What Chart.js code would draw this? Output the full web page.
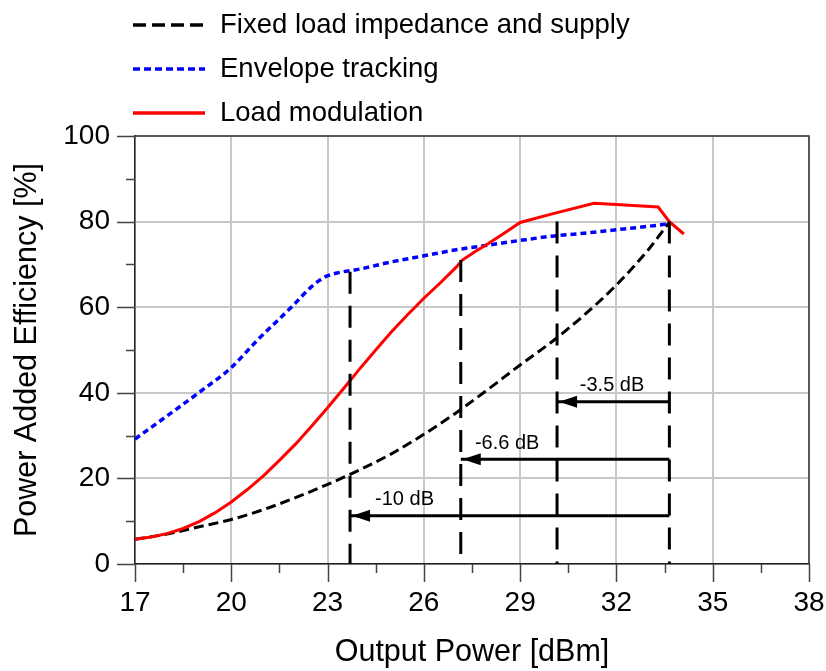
<!DOCTYPE html>
<html>
<head>
<meta charset="utf-8">
<title>Power Added Efficiency</title>
<script src="https://cdn.jsdelivr.net/npm/chart.js@4.4.0/dist/chart.umd.min.js"></script>
<style>
  body { margin: 0; background: #fff; }
  canvas { display: block; }
</style>
</head>
<body>
<canvas id="paeChart" width="826" height="671"></canvas>
<script>
// Output power [dBm] / PAE [%] for each architecture
const fixedP   = [17, 18, 19, 20, 21, 22, 23, 24, 25, 26, 27, 28, 29, 30, 31, 32, 33, 33.65];
const fixedPAE = [5.8, 7.0, 8.7, 10.4, 12.7, 15.5, 18.6, 22.0, 25.8, 30.3, 35.3, 40.8, 46.5, 52.0, 58.2, 65.2, 73.5, 79.9];

const etP   = [17, 18, 19, 20, 20.8, 21.9, 22.5, 22.9, 23.3, 24, 25, 26, 27, 28, 29, 30, 31, 32, 33, 33.65];
const etPAE = [29.2, 34.6, 40.1, 45.9, 52.2, 60.2, 64.8, 67.0, 68.0, 68.9, 70.6, 72.0, 73.4, 74.5, 75.6, 76.6, 77.3, 78.1, 78.9, 79.5];

const lmP   = [17, 17.5, 18, 18.5, 19, 19.5, 20, 20.5, 21, 21.5, 22, 22.5, 23, 23.5, 24, 24.5, 25, 25.5, 26, 26.5, 27, 27.2, 27.6, 28, 28.5, 29, 30, 31.3, 32, 33.3, 33.65, 34.1];
const lmPAE = [5.8, 6.3, 7.1, 8.3, 9.9, 12.0, 14.5, 17.4, 20.6, 24.2, 28.0, 32.2, 36.5, 41.0, 45.6, 50.0, 54.3, 58.3, 62.1, 65.6, 69.3, 71.0, 73.0, 74.8, 77.3, 79.8, 81.8, 84.3, 84.0, 83.4, 80.0, 77.1];

// back-off markers (dashed verticals) and their upper ends
const backoffP   = [23.7, 27.15, 30.15, 33.65];
const backoffTop = [68.3, 71.0, 80.0, 80.0];

// back-off arrows, drawn from peak power towards lower power
const arrowFrom   = 33.65;
const arrowTo     = [30.15, 27.15, 23.7];
const arrowPAE    = [37.9, 24.5, 11.3];
const arrowLabels = ['-3.5 dB', '-6.6 dB', '-10 dB'];
const arrowTextP  = [30.86, 27.59, 24.48];

const xTicks = [17, 20, 23, 26, 29, 32, 35, 38];
const yTicks = [0, 20, 40, 60, 80, 100];

const FONT = '"Liberation Sans", Arial, sans-serif';

const toPoints = (xs, ys) => xs.map((x, i) => ({ x: x, y: ys[i] }));

const series = [
  { label: 'Fixed load impedance and supply', data: toPoints(fixedP, fixedPAE),
    borderColor: '#000000', borderDash: [10, 5], legendDash: [13, 6], borderWidth: 3,
    cubicInterpolationMode: 'monotone', order: 3 },
  { label: 'Envelope tracking', data: toPoints(etP, etPAE),
    borderColor: '#0000ff', borderDash: [6, 4], legendDash: [7, 4], borderWidth: 3.5,
    cubicInterpolationMode: 'monotone', order: 2 },
  { label: 'Load modulation', data: toPoints(lmP, lmPAE),
    borderColor: '#ff0000', borderDash: [], legendDash: [], borderWidth: 3,
    order: 1 }
];

const markers = backoffP.map((p, i) => ({
  data: [{ x: p, y: backoffTop[i] }, { x: p, y: 0 }],
  borderColor: '#000', borderWidth: 3, borderDash: [22, 12], order: 0
}));

const arrows = arrowTo.map((p, i) => ({
  data: [{ x: arrowFrom, y: arrowPAE[i] }, { x: p, y: arrowPAE[i] }],
  borderColor: '#000', borderWidth: 3, order: 0
}));

// three-row legend above the plot
const legendRows = {
  id: 'legendRows',
  afterDraw(chart) {
    const ctx = chart.ctx;
    chart.data.datasets.slice(0, 3).forEach((ds, i) => {
      const y = 25 + i * 44;
      ctx.save();
      ctx.strokeStyle = ds.borderColor;
      ctx.lineWidth = 3.5;
      ctx.setLineDash(ds.legendDash);
      ctx.beginPath();
      ctx.moveTo(133, y);
      ctx.lineTo(205, y);
      ctx.stroke();
      ctx.setLineDash([]);
      ctx.fillStyle = '#000';
      ctx.font = '27.5px ' + FONT;
      ctx.textBaseline = 'middle';
      ctx.fillText(ds.label, 220, y);
      ctx.restore();
    });
  }
};

// top/right frame plus outside tick marks (major + minor)
const frameTicks = {
  id: 'frameTicks',
  afterDraw(chart) {
    const { ctx, chartArea: a, scales: { x, y } } = chart;
    ctx.save();
    ctx.strokeStyle = '#333';
    ctx.lineWidth = 1.5;
    ctx.beginPath();
    ctx.moveTo(a.left, a.top);
    ctx.lineTo(a.right, a.top);
    ctx.lineTo(a.right, a.bottom);
    ctx.stroke();

    ctx.strokeStyle = '#444';
    ctx.beginPath();
    for (let v = 0; v <= 100; v += 10) {
      const py = Math.round(y.getPixelForValue(v)) + 0.5;
      const len = yTicks.includes(v) ? 18 : 9;
      ctx.moveTo(a.left, py);
      ctx.lineTo(a.left - len, py);
    }
    for (let v = 17; v <= 38; v += 1.5) {
      const px = Math.round(x.getPixelForValue(v)) + 0.5;
      const len = xTicks.includes(v) ? 18 : 9;
      ctx.moveTo(px, a.bottom);
      ctx.lineTo(px, a.bottom + len);
    }
    ctx.stroke();
    ctx.restore();
  }
};

// arrow heads and back-off labels
const arrowNotes = {
  id: 'arrowNotes',
  afterDatasetsDraw(chart) {
    const { ctx, scales: { x, y } } = chart;
    ctx.save();
    ctx.fillStyle = '#000';
    ctx.font = '20px ' + FONT;
    ctx.textBaseline = 'middle';
    arrowTo.forEach((p, i) => {
      const tip = x.getPixelForValue(p) + 2;
      const py = y.getPixelForValue(arrowPAE[i]);
      ctx.beginPath();
      ctx.moveTo(tip, py);
      ctx.lineTo(tip + 18, py - 6);
      ctx.lineTo(tip + 18, py + 6);
      ctx.closePath();
      ctx.fill();
      ctx.fillText(arrowLabels[i], x.getPixelForValue(arrowTextP[i]), py - 16);
    });
    ctx.restore();
  }
};

new Chart(document.getElementById('paeChart'), {
  type: 'line',
  data: { datasets: series.concat(markers, arrows) },
  options: {
    responsive: false,
    animation: false,
    devicePixelRatio: 1,
    layout: { padding: { top: 136, right: 17, left: 0, bottom: 0 } },
    elements: {
      point: { radius: 0 },
      line: { fill: false, tension: 0, borderCapStyle: 'butt' }
    },
    plugins: { legend: { display: false }, tooltip: { enabled: false } },
    scales: {
      x: {
        type: 'linear', min: 17, max: 38,
        afterBuildTicks: s => { s.ticks = xTicks.map(v => ({ value: v })); },
        afterFit: s => { s.height = 107; s.paddingLeft = 0; s.paddingRight = 0; },
        ticks: { font: { family: FONT, size: 28 }, color: '#000', padding: 22, maxRotation: 0, autoSkip: false },
        grid: { color: '#c8c8c8', lineWidth: 2, drawTicks: false },
        border: { color: '#222', width: 1.5 },
        title: { display: true, text: 'Output Power [dBm]', color: '#000',
                 font: { family: FONT, size: 30.5 }, padding: { top: 0, bottom: 0 } }
      },
      y: {
        min: 0, max: 100,
        afterBuildTicks: s => { s.ticks = yTicks.map(v => ({ value: v })); },
        afterFit: s => { s.width = 135; s.paddingTop = 0; s.paddingBottom = 0; },
        ticks: { font: { family: FONT, size: 28 }, color: '#000', padding: 25 },
        grid: { color: '#c8c8c8', lineWidth: 2, drawTicks: false },
        border: { color: '#222', width: 1.5 },
        title: { display: true, text: 'Power Added Efficiency [%]', color: '#000',
                 font: { family: FONT, size: 30.5 }, padding: { top: 9, bottom: 0 } }
      }
    }
  },
  plugins: [legendRows, frameTicks, arrowNotes]
});
</script>
</body>
</html>
